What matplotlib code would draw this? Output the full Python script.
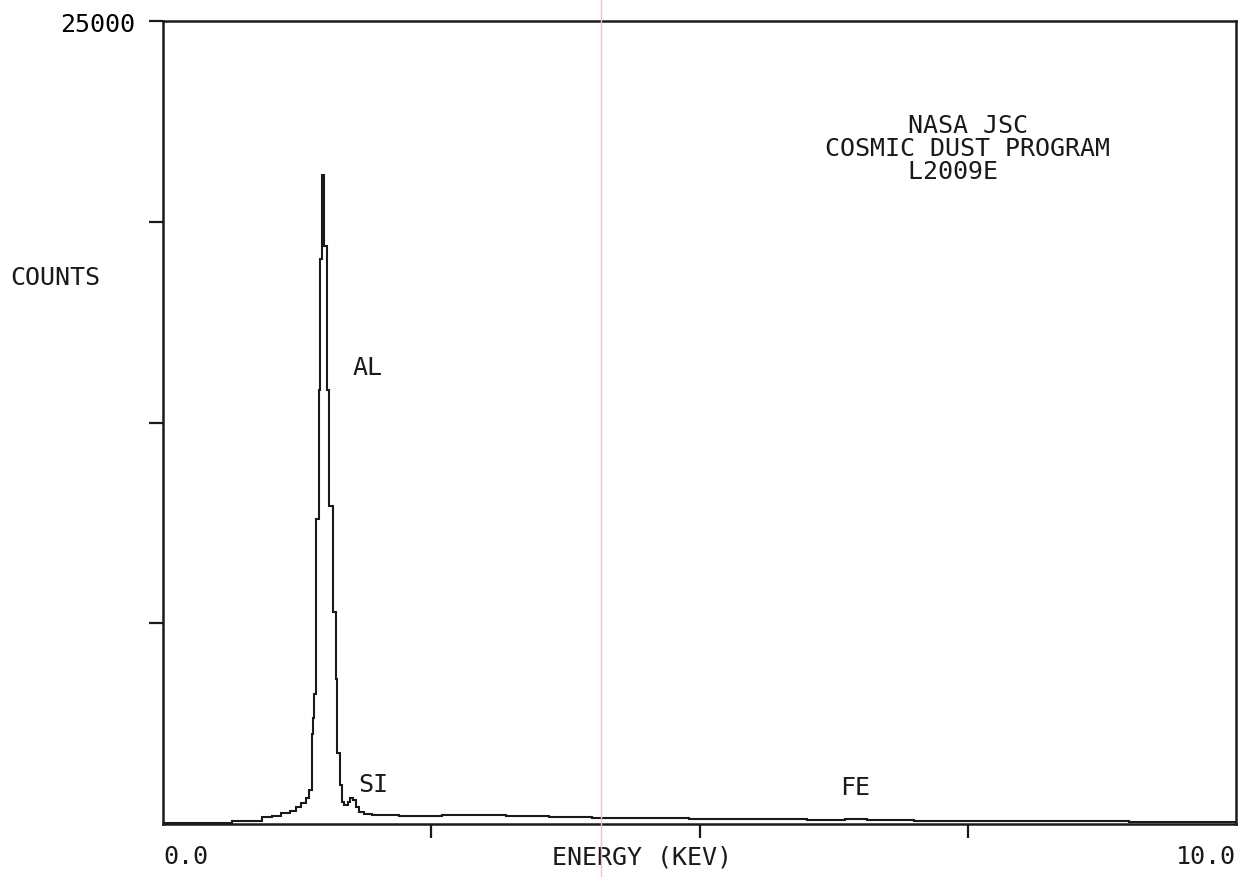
import numpy as np
import matplotlib.pyplot as plt
from matplotlib.lines import Line2D

# EDS spectrum: step edges (keV) and counts per step
edges = [0.00, 0.64, 0.92, 1.02, 1.10, 1.18, 1.24, 1.29, 1.33, 1.36, 1.39,
         1.40, 1.41, 1.43, 1.455, 1.465, 1.48, 1.50, 1.525, 1.545, 1.58,
         1.61, 1.625, 1.645, 1.665, 1.69, 1.72, 1.74, 1.77, 1.80, 1.83,
         1.87, 1.95, 2.2, 2.6, 3.2, 3.6, 4.0, 4.4, 4.9, 5.3, 5.6, 6.0,
         6.36, 6.56, 7.0, 8.0, 9.0, 10.0]
counts = [25, 90, 210, 260, 330, 420, 520, 650, 800, 1050,
          2800, 3300, 4050, 9500, 13500, 17600, 20200, 18000, 13500, 9900,
          6600, 4500, 2200, 1200, 700, 600, 700, 820, 760, 540,
          380, 300, 270, 260, 280, 250, 210, 200, 180, 170, 160, 150,
          140, 170, 120, 100, 80, 60]

# peak labels
elements = ["AL", "SI", "FE"]
label_x = [1.77, 1.82, 6.31]
label_y = [14230, 1245, 1150]

header = ["NASA JSC", "COSMIC DUST PROGRAM", "L2009E  "]

FONT = "DejaVu Sans Mono"
INK = "#1a1a1a"

fig = plt.figure(figsize=(12.43, 8.78), dpi=100)
ax = fig.add_axes([163 / 1243, 1 - 825 / 878, (1236 - 163) / 1243, (825 - 22) / 878])

ax.stairs(counts, edges, color=INK, lw=1.5)

ax.set_xlim(0, 10)
ax.set_ylim(0, 25000)
ax.set_xticks([2.5, 5.0, 7.5])
ax.set_xticklabels([])
ax.set_yticks([6250, 12500, 18750, 25000])
ax.set_yticklabels(["", "", "", "25000"], fontfamily=FONT, fontsize=18)
ax.tick_params(direction="out", length=10, width=1.6, color=INK, pad=10)
for s in ax.spines.values():
    s.set_linewidth(1.8)
    s.set_color(INK)

for name, x, y in zip(elements, label_x, label_y):
    ax.text(x, y, name, fontfamily=FONT, fontsize=18, color=INK, va="center")

ax.text(7.5, 21060, "\n".join(header), fontfamily=FONT, fontsize=18, color=INK,
        ha="center", va="center", multialignment="center", linespacing=0.95)

trans = ax.get_xaxis_transform()
ax.text(0.0, -0.04, "0.0", transform=trans, fontfamily=FONT, fontsize=18, color=INK, ha="left", va="center")
ax.text(10.0, -0.04, "10.0", transform=trans, fontfamily=FONT, fontsize=18, color=INK, ha="right", va="center")
ax.text(4.46, -0.041, "ENERGY (KEV)", transform=trans, fontfamily=FONT, fontsize=18, color=INK, ha="center", va="center")

fig.text(10 / 1243, 1 - 278 / 878, "COUNTS", fontfamily=FONT, fontsize=18, color=INK, va="center")

# faint pink scan line running down the page
fig.add_artist(Line2D([601 / 1243] * 2, [0, 1], color="#f0bcd6", lw=1))

fig.savefig("out.png", dpi=100)
